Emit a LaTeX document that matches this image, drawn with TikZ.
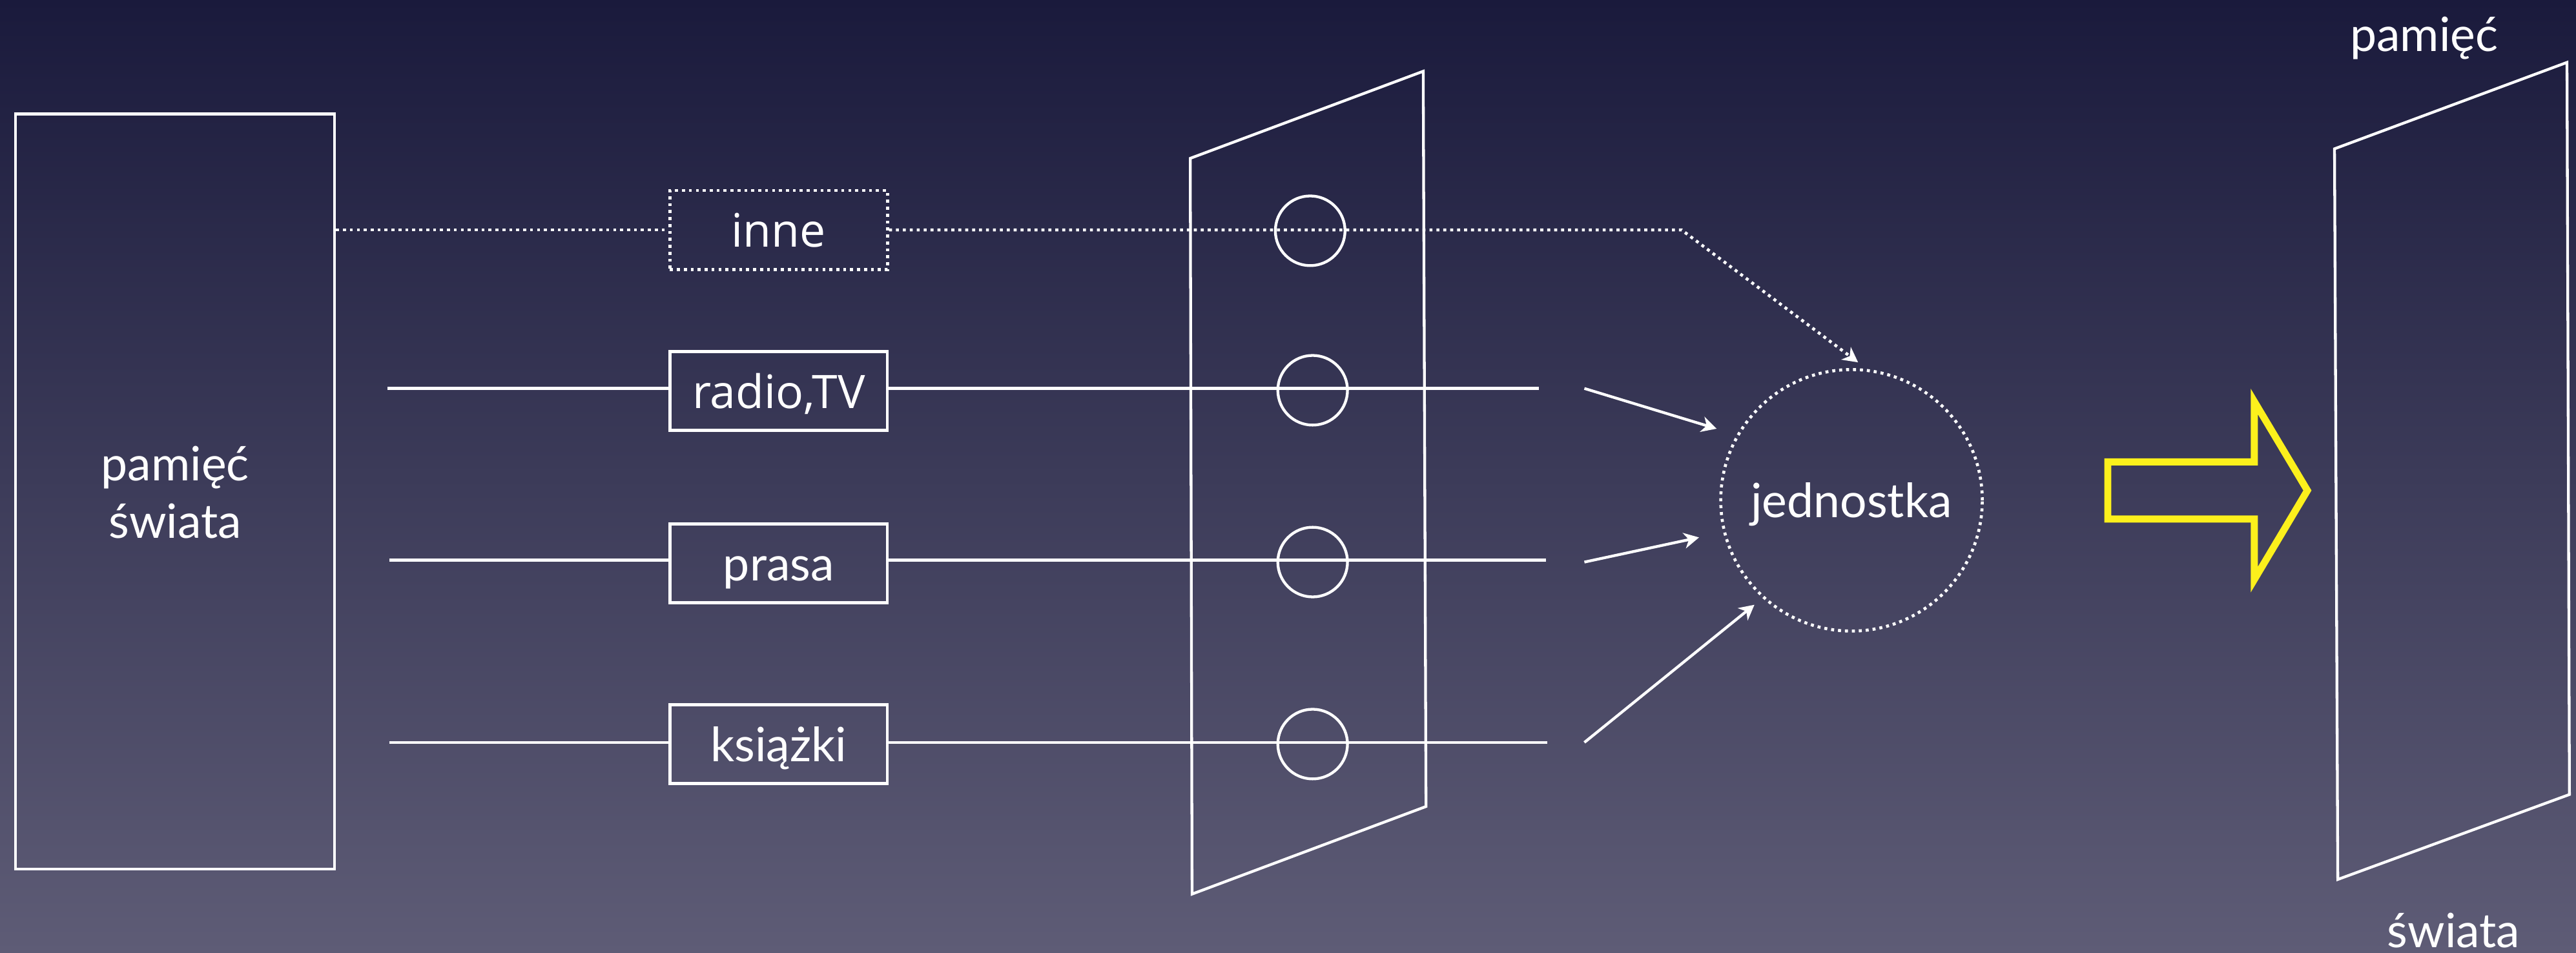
\documentclass[tikz,border=0pt]{standalone}
\usepackage{fontspec}
\setmainfont{Lato}
\newfontfamily\lucfont{Open Sans}
\usetikzlibrary{arrows.meta}
\definecolor{bgtop}{RGB}{26,26,60}
\definecolor{bgbot}{RGB}{94,92,118}
\definecolor{arrowyellow}{RGB}{252,240,28}
\tikzset{
  wline/.style={draw=white, line width=1.2pt},
  dotline/.style={draw=white, line width=1.3pt, dash pattern=on 1.3pt off 1.7pt},
  lbl/.style={text=white, inner sep=0pt, font=\fontsize{20.5}{24.9}\selectfont},
  srcbox/.style={rectangle, minimum width=33.1mm, minimum height=12mm, inner sep=0pt,
    text=white, text height=14.9pt, text depth=0pt, font=\fontsize{20.5}{24.9}\selectfont},
  lucbox/.style={srcbox, font=\lucfont\fontsize{20}{24}\selectfont},
  hole/.style={wline, circle, minimum size=10.6mm, inner sep=0pt},
  tiparrow/.style={-{Stealth[length=6.5pt, width=6.8pt, inset=2pt]}}
}
\begin{document}
\begin{tikzpicture}[x=0.25mm, y=-0.25mm]
\useasboundingbox (0,0) rectangle (1568,580);
\shade[top color=bgtop, bottom color=bgbot] (0,0) rectangle (1568,580);

% world memory box
\node[wline, rectangle, minimum width=48.55mm, minimum height=114.95mm, inner sep=0pt] (world) at (106.6,299.3) {};
\node[lbl, anchor=base] (w1) at (106.6,292.6) {pamięć};
\node[lbl, anchor=base] (w2) at (106.6,327.7) {świata};

% source boxes
\node[lucbox, dotline] (inne) at (474,140) {inne};
\node[lucbox, wline] (radio) at (474,238) {radio,TV};
\node[srcbox, wline] (prasa) at (474,343) {prasa};
\node[srcbox, wline] (ksiazki) at (474,453) {książki};

% filter plane
\coordinate (fTL) at (724.5,96.4);
\coordinate (fTR) at (866.3,43.4);
\coordinate (fBR) at (868,491);
\coordinate (fBL) at (725.6,544.3);
\draw[wline] (fTL) -- (fTR) -- (fBR) -- (fBL) -- cycle;

\node[hole] (h1) at (797.5,140.5) {};
\node[hole] (h2) at (799,237.6) {};
\node[hole] (h3) at (799,342.2) {};
\node[hole] (h4) at (799,453) {};

% channel lines
\coordinate (rL) at (236,236.5);
\coordinate (rR) at (936.7,236.5);
\coordinate (pL) at (237,341);
\coordinate (pR) at (941,341);
\coordinate (kL) at (237,452);
\coordinate (kR) at (942,452);
\draw[wline] (rL) -- (rL -| radio.west);
\draw[wline] (radio.east |- rR) -- (rR);
\draw[wline] (pL) -- (pL -| prasa.west);
\draw[wline] (prasa.east |- pR) -- (pR);
\draw[wline] (kL) -- (kL -| ksiazki.west);
\draw[wline] (ksiazki.east |- kR) -- (kR);

% other channel (dotted)
\coordinate (ibend) at (1023.6,140);
\coordinate (itip) at (1131,220.6);
\draw[dotline] (world.east |- inne) -- (inne.west);
\draw[dotline, tiparrow] (inne.east) -- (ibend) -- (itip);

% individual
\node[dotline, circle, minimum size=39.8mm, inner sep=0pt, text=white,
  text height=14.9pt, text depth=0pt, font=\fontsize{20.5}{24.9}\selectfont] (jed) at (1127,304.6) {jednostka};

\coordinate (a1s) at (964.4,236.5);
\coordinate (a1e) at (1044.9,261);
\coordinate (a2s) at (964.4,342.2);
\coordinate (a2e) at (1034.2,327.2);
\coordinate (a3s) at (964.4,452);
\coordinate (a3e) at (1067.9,368.2);
\draw[wline, tiparrow] (a1s) -- (a1e);
\draw[wline, tiparrow] (a2s) -- (a2e);
\draw[wline, tiparrow] (a3s) -- (a3e);

% yellow arrow
\draw[draw=arrowyellow, line width=3.05pt] (1283,281.2) -- (1372.2,281.2) -- (1372.2,244.5)
  -- (1404.5,298.6) -- (1372.2,352.8) -- (1372.2,316) -- (1283,316) -- cycle;

% right plane
\coordinate (rTL) at (1421,90.6);
\coordinate (rTR) at (1562.5,38);
\coordinate (rBR) at (1564,483.7);
\coordinate (rBL) at (1423,535.4);
\draw[wline] (rTL) -- (rTR) -- (rBR) -- (rBL) -- cycle;
\node[lbl, anchor=base] (m1) at (1475.5,31.4) {pamięć};
\node[lbl, anchor=base] (m2) at (1493.5,577) {świata};
\end{tikzpicture}
\end{document}
